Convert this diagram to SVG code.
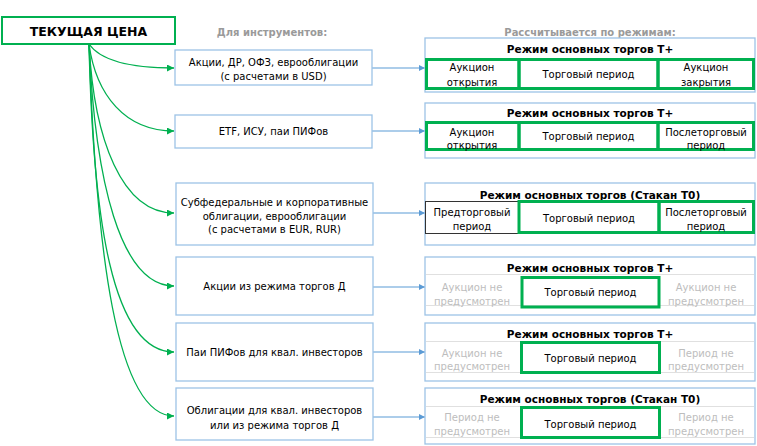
<svg xmlns="http://www.w3.org/2000/svg" width="757" height="446" viewBox="0 0 757 446">
<style>
text{font-family:"DejaVu Sans","Liberation Sans",sans-serif;font-size:10px;fill:#000;text-anchor:middle}
.hdr{font-weight:bold;fill:#9a9a9a;font-size:10px}
.ttl{font-weight:bold;font-size:10.5px}
.main{font-weight:bold;font-size:12.5px}
.gr{fill:#bdbdbd}
.ibox{fill:#fff;stroke:#9dc3e6;stroke-width:1.3}
.rbox{fill:#fff;stroke:#9dc3e6;stroke-width:1.3}
.gcell{fill:none;stroke:#00b050;stroke-width:3}
.bcell{fill:none;stroke:#333;stroke-width:1}
.gline{stroke:#e0e0e0;stroke-width:1}
.gc{fill:none;stroke:#00b050;stroke-width:1.3}
.bc{fill:none;stroke:#5b9bd5;stroke-width:1.2}
</style>
<defs>
<marker id="ga" viewBox="0 0 10 10" refX="10" refY="5" markerWidth="9" markerHeight="7" markerUnits="userSpaceOnUse" orient="auto"><path d="M0,0L10,5L0,10z" fill="#00b050"/></marker>
<marker id="ba" viewBox="0 0 10 10" refX="10" refY="5" markerWidth="8" markerHeight="6" markerUnits="userSpaceOnUse" orient="auto"><path d="M0,0L10,5L0,10z" fill="#5b9bd5"/></marker>
</defs>
<rect width="757" height="446" fill="#fff"/>

<text class="hdr" x="272" y="36">Для инструментов:</text>
<text class="hdr" x="590" y="36">Рассчитывается по режимам:</text>

<g id="connectors">
<path class="gc" marker-end="url(#ga)" d="M89,44 C100,60 130,68 174,68"/>
<path class="gc" marker-end="url(#ga)" d="M89,44 C96,95 125,131 174,131"/>
<path class="gc" marker-end="url(#ga)" d="M89,44 C94,140 122,213 174,213"/>
<path class="gc" marker-end="url(#ga)" d="M89,44 C95,180 120,286 174,286"/>
<path class="gc" marker-end="url(#ga)" d="M89,44 C93,220 112,352 174,352"/>
<path class="gc" marker-end="url(#ga)" d="M89,44 C96,250 116,416 174,416"/>
<path class="bc" marker-end="url(#ba)" d="M372,68H425"/>
<path class="bc" marker-end="url(#ba)" d="M372,131H425"/>
<path class="bc" marker-end="url(#ba)" d="M372,213H425"/>
<path class="bc" marker-end="url(#ba)" d="M372,287H425"/>
<path class="bc" marker-end="url(#ba)" d="M372,352H425"/>
<path class="bc" marker-end="url(#ba)" d="M372,417H425"/>
</g>

<g id="main">
<rect x="2" y="17" width="173" height="27" fill="#fff" stroke="#00b050" stroke-width="2"/>
<text class="main" x="88.5" y="35.5">ТЕКУЩАЯ ЦЕНА</text>
</g>

<g id="i1"><rect class="ibox" x="175" y="50" width="197" height="35"/>
<text x="273.5" y="66">Акции, ДР, ОФЗ, еврооблигации</text><text x="273.5" y="80">(с расчетами в USD)</text></g>
<g id="i2"><rect class="ibox" x="175" y="115" width="197" height="33"/>
<text x="273.5" y="135">ETF, ИСУ, паи ПИФов</text></g>
<g id="i3"><rect class="ibox" x="176" y="183" width="197" height="62"/>
<text x="274.5" y="206">Субфедеральные и корпоративные</text><text x="274.5" y="220">облигации, еврооблигации</text><text x="274.5" y="233">(с расчетами в EUR, RUR)</text></g>
<g id="i4"><rect class="ibox" x="176" y="257" width="197" height="58"/>
<text x="274.5" y="290">Акции из режима торгов Д</text></g>
<g id="i5"><rect class="ibox" x="176" y="323" width="197" height="58"/>
<text x="274.5" y="356">Паи ПИФов для квал. инвесторов</text></g>
<g id="i6"><rect class="ibox" x="176" y="388" width="197" height="52"/>
<text x="274.5" y="414">Облигации для квал. инвесторов</text><text x="274.5" y="429">или из режима торгов Д</text></g>

<g id="r1"><rect class="rbox" x="425" y="38" width="330" height="54"/>
<text class="ttl" x="590" y="53">Режим основных торгов Т+</text>
<rect class="gcell" x="426.5" y="59.5" width="92.5" height="29"/>
<rect class="gcell" x="519" y="59.5" width="139" height="29"/>
<rect class="gcell" x="658" y="59.5" width="95.5" height="29"/>
<text x="472" y="71">Аукцион</text><text x="472" y="85.5">открытия</text>
<text x="588.5" y="78">Торговый период</text>
<text x="706" y="71">Аукцион</text><text x="706" y="85.5">закрытия</text></g>

<g id="r2"><rect class="rbox" x="425" y="103" width="330" height="55"/>
<text class="ttl" x="590" y="117">Режим основных торгов Т+</text>
<rect class="gcell" x="426.5" y="122.5" width="92.5" height="27"/>
<rect class="gcell" x="519" y="122.5" width="139" height="27"/>
<rect class="gcell" x="658" y="122.5" width="95.5" height="27"/>
<text x="472" y="136">Аукцион</text><text x="472" y="149">открытия</text>
<text x="588.5" y="140">Торговый период</text>
<text x="706" y="136">Послеторговый</text><text x="706" y="149">период</text></g>

<g id="r3"><rect class="rbox" x="425" y="183" width="330" height="62"/>
<text class="ttl" x="590" y="199">Режим основных торгов (Стакан Т0)</text>
<rect class="bcell" x="425.5" y="201.5" width="93" height="32"/>
<rect class="gcell" x="519" y="201.5" width="140" height="31"/>
<rect class="gcell" x="659" y="201.5" width="94.5" height="31"/>
<text x="472" y="216">Предторговый</text><text x="472" y="230">период</text>
<text x="589" y="222">Торговый период</text>
<text x="706" y="216">Послеторговый</text><text x="706" y="230">период</text></g>

<g id="r4"><rect class="rbox" x="425" y="257" width="330" height="58"/>
<line class="gline" x1="426" y1="274.5" x2="754" y2="274.5"/>
<line class="gline" x1="426" y1="305.5" x2="754" y2="305.5"/>
<text class="ttl" x="590" y="272">Режим основных торгов Т+</text>
<rect class="gcell" x="522" y="277.5" width="137" height="29.5"/>
<text class="gr" x="472" y="291">Аукцион не</text><text class="gr" x="472" y="305">предусмотрен</text>
<text x="590.5" y="296">Торговый период</text>
<text class="gr" x="706" y="291">Аукцион не</text><text class="gr" x="706" y="305">предусмотрен</text></g>

<g id="r5"><rect class="rbox" x="425" y="323" width="330" height="58"/>
<line class="gline" x1="426" y1="341.5" x2="754" y2="341.5"/>
<line class="gline" x1="426" y1="372.5" x2="754" y2="372.5"/>
<text class="ttl" x="590" y="338">Режим основных торгов Т+</text>
<rect class="gcell" x="521.5" y="342.5" width="138" height="30"/>
<text class="gr" x="472" y="357">Аукцион не</text><text class="gr" x="472" y="370">предусмотрен</text>
<text x="590.5" y="362">Торговый период</text>
<text class="gr" x="706" y="357">Период не</text><text class="gr" x="706" y="370">предусмотрен</text></g>

<g id="r6"><rect class="rbox" x="425" y="388" width="330" height="56"/>
<line class="gline" x1="426" y1="406.5" x2="754" y2="406.5"/>
<line class="gline" x1="426" y1="437.5" x2="754" y2="437.5"/>
<text class="ttl" x="590" y="403">Режим основных торгов (Стакан Т0)</text>
<rect class="gcell" x="521.5" y="407.5" width="138" height="30"/>
<text class="gr" x="472" y="421">Период не</text><text class="gr" x="472" y="435">предусмотрен</text>
<text x="590.5" y="428">Торговый период</text>
<text class="gr" x="706" y="421">Период не</text><text class="gr" x="706" y="435">предусмотрен</text></g>
</svg>
